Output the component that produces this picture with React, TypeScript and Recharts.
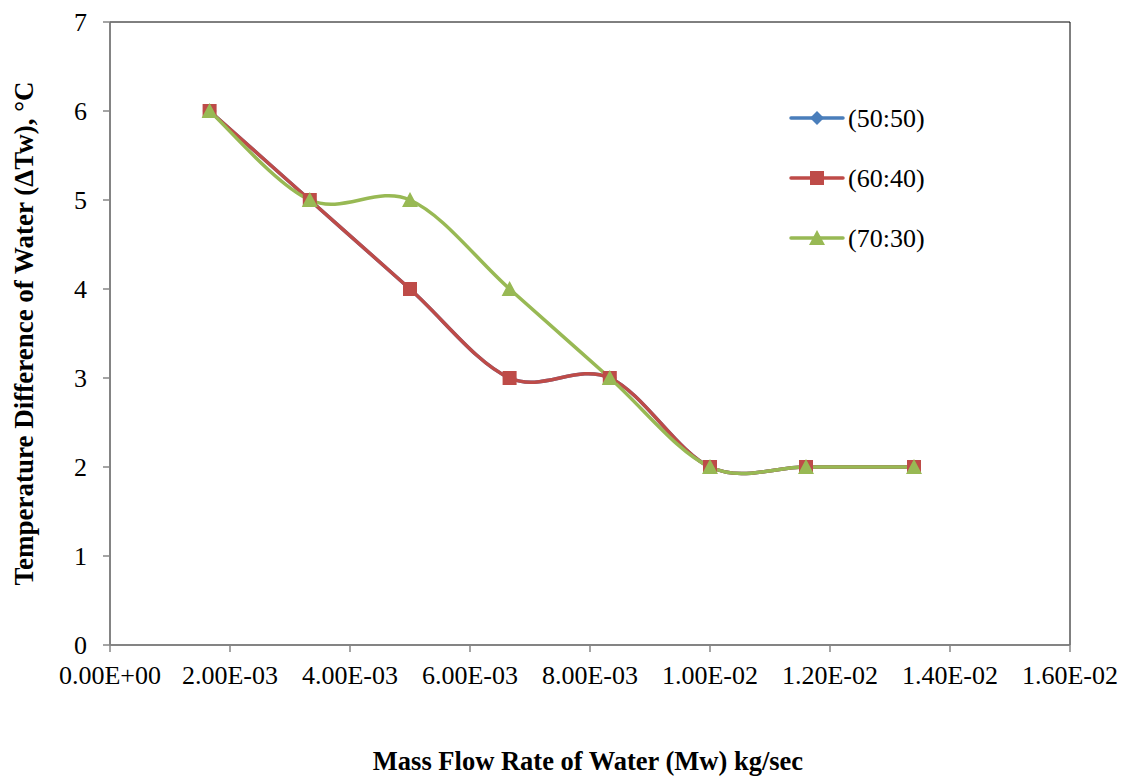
import { LineChart, Line, XAxis, YAxis, ReferenceArea, Label } from 'recharts';

const massFlow = [0.00166, 0.00333, 0.005, 0.00666, 0.00833, 0.01, 0.0116, 0.0134];
const ratio5050 = [6, 5, 4, 3, 3, 2, 2, 2];
const ratio6040 = [6, 5, 4, 3, 3, 2, 2, 2];
const ratio7030 = [6, 5, 5, 4, 3, 2, 2, 2];
const xTicks = [0, 0.002, 0.004, 0.006, 0.008, 0.01, 0.012, 0.014, 0.016];
const yTicks = [0, 1, 2, 3, 4, 5, 6, 7];

const data = massFlow.map((x, i) => ({
  x,
  a: ratio5050[i],
  b: ratio6040[i],
  c: ratio7030[i],
}));

const FONT = '"Liberation Serif", "Times New Roman", serif';
const AXIS_GREY = '#868686';

const series = [
  { key: 'a', name: '(50:50)', color: '#4A7EBB', shape: 'diamond' },
  { key: 'b', name: '(60:40)', color: '#BE4B48', shape: 'square' },
  { key: 'c', name: '(70:30)', color: '#98B954', shape: 'triangle' },
];

// Excel-style smoothed line (Catmull-Rom through the points)
function excelSmooth(context: any) {
  let pts: number[][] = [];
  return {
    areaStart() {},
    areaEnd() {},
    lineStart() { pts = []; },
    point(x: number, y: number) { pts.push([+x, +y]); },
    lineEnd() {
      const n = pts.length;
      if (!n) return;
      context.moveTo(pts[0][0], pts[0][1]);
      const t = 1 / 6;
      for (let i = 0; i < n - 1; i++) {
        const p0 = pts[Math.max(i - 1, 0)];
        const p1 = pts[i];
        const p2 = pts[i + 1];
        const p3 = pts[Math.min(i + 2, n - 1)];
        context.bezierCurveTo(
          p1[0] + (p2[0] - p0[0]) * t, p1[1] + (p2[1] - p0[1]) * t,
          p2[0] - (p3[0] - p1[0]) * t, p2[1] - (p3[1] - p1[1]) * t,
          p2[0], p2[1],
        );
      }
    },
  };
}

function Marker({ cx, cy, shape, color }: any) {
  if (cx == null || cy == null) return null;
  if (shape === 'square') {
    return <rect x={cx - 7} y={cy - 7} width={14} height={14} fill={color} />;
  }
  if (shape === 'triangle') {
    return <polygon points={`${cx},${cy - 8} ${cx + 8},${cy + 7} ${cx - 8},${cy + 7}`} fill={color} />;
  }
  return <polygon points={`${cx},${cy - 7} ${cx + 7},${cy} ${cx},${cy + 7} ${cx - 7},${cy}`} fill={color} />;
}

const fmtExp = (v: number) => {
  const [m, e] = v.toExponential(2).split('e');
  const sign = e.startsWith('-') ? '-' : '+';
  const digits = e.replace(/[+-]/, '').padStart(2, '0');
  return `${m}E${sign}${digits}`;
};

function LegendBox() {
  return (
    <svg width={200} height={160} style={{ position: 'absolute', left: 786, top: 108, overflow: 'visible' }}>
      {series.map((s, i) => {
        const y = 10 + i * 60;
        return (
          <g key={s.key}>
            <line x1={5} x2={57} y1={y} y2={y} stroke={s.color} strokeWidth={3.5} strokeLinecap="round" />
            <Marker cx={31} cy={y} shape={s.shape} color={s.color} />
            <text x={62} y={y} dy="0.35em" fontFamily={FONT} fontSize={26} fill="#000">{s.name}</text>
          </g>
        );
      })}
    </svg>
  );
}

export default function App() {
  return (
    <div style={{ position: 'absolute', left: 0, top: 0, width: 1126, height: 776, background: '#fff' }}>
      <LineChart width={1126} height={776} data={data} margin={{ top: 22, right: 56, bottom: 0, left: 0 }}>
        <ReferenceArea x1={0} x2={0.016} y1={0} y2={7} fill="none" stroke="#000" strokeWidth={1} ifOverflow="visible" />
        <XAxis
          type="number"
          dataKey="x"
          domain={[0, 0.016]}
          ticks={xTicks}
          tickFormatter={fmtExp}
          interval={0}
          stroke={AXIS_GREY}
          strokeWidth={1.5}
          tickSize={7}
          tickMargin={14}
          tick={{ fill: '#000', fontFamily: FONT, fontSize: 26 }}
          height={131}
        >
          <Label
            content={({ viewBox }: any) => (
              <text
                x={viewBox.x + viewBox.width / 2 - 2}
                y={770}
                textAnchor="middle"
                fontFamily={FONT}
                fontWeight="bold"
                fontSize={26.5}
                fill="#000"
              >
                Mass Flow Rate of Water (Mw) kg/sec
              </text>
            )}
          />
        </XAxis>
        <YAxis
          type="number"
          domain={[0, 7]}
          ticks={yTicks}
          interval={0}
          stroke={AXIS_GREY}
          strokeWidth={1.5}
          tickSize={7}
          tickMargin={16}
          tick={{ fill: '#000', fontFamily: FONT, fontSize: 26 }}
          width={110}
        >
          <Label
            content={({ viewBox }: any) => {
              const cy = viewBox.y + viewBox.height / 2;
              return (
                <text
                  x={24}
                  y={cy}
                  transform={`rotate(-90, 24, ${cy})`}
                  textAnchor="middle"
                  dominantBaseline="central"
                  fontFamily={FONT}
                  fontWeight="bold"
                  fontSize={27}
                  fill="#000"
                >
                  Temperature Difference of Water (ΔTw), °C
                </text>
              );
            }}
          />
        </YAxis>
        {series.map((s) => (
          <Line
            key={s.key}
            dataKey={s.key}
            name={s.name}
            type={excelSmooth as any}
            stroke={s.color}
            strokeWidth={3.5}
            dot={(p: any) => <Marker key={`${s.key}-${p.index}`} cx={p.cx} cy={p.cy} shape={s.shape} color={s.color} />}
            activeDot={false}
            isAnimationActive={false}
          />
        ))}
      </LineChart>
      <LegendBox />
    </div>
  );
}
